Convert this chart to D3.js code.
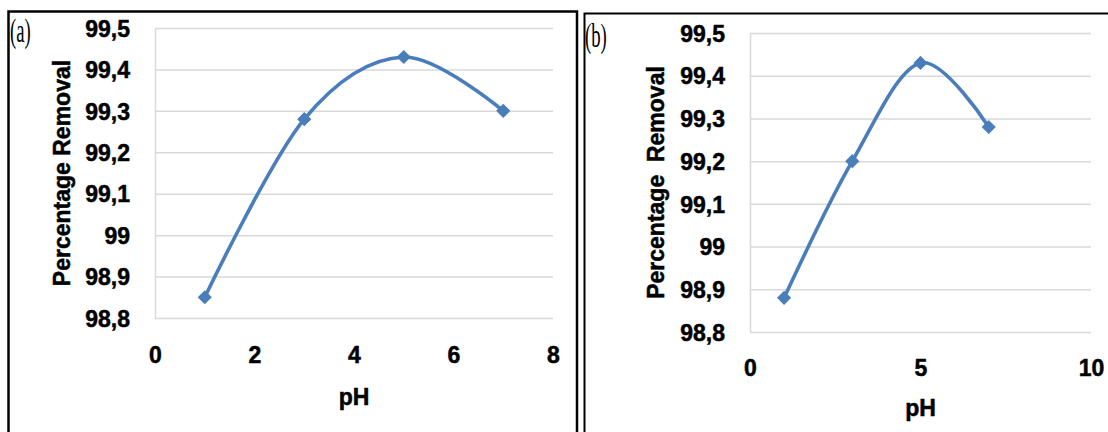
<!DOCTYPE html>
<html lang="en">
<head>
<meta charset="utf-8">
<title>Percentage Removal vs pH</title>
<script src="https://d3js.org/d3.v7.min.js"></script>
<style>
  body { margin: 0; background: #fff; }
  text { font-family: "Liberation Sans", Arial, sans-serif; }
  .axis text { font-size: 23px; font-weight: bold; fill: #000; stroke: #000; stroke-width: 0.5; }
  .axis .tick line { stroke: #d9d9d9; stroke-width: 1.5; }
  .axis path.domain { stroke: #d9d9d9; stroke-width: 1.5; }
  .title { font-size: 23px; font-weight: bold; fill: #000; stroke: #000; stroke-width: 0.5; }
  .tag { font-family: "Liberation Serif", "Times New Roman", serif; font-size: 34px; fill: #000; }
</style>
</head>
<body>
<svg id="chart" width="1108" height="432"></svg>
<script>
// data
var phA = [1, 3, 5, 7];
var removalA = [98.85, 99.28, 99.43, 99.30];
var phB = [1, 3, 5, 7];
var removalB = [98.88, 99.20, 99.43, 99.28];
var yTicks = [98.8, 98.9, 99.0, 99.1, 99.2, 99.3, 99.4, 99.5];
var xTicksA = [0, 2, 4, 6, 8];
var xTicksB = [0, 5, 10];

var svg = d3.select("#chart");
var blue = "#4a7ebb";

var fmt = function(d) { return d3.format(".1~f")(d).replace(".", ","); };

// panel frames
svg.append("path")
    .attr("d", "M8.5,432 V11.5 H577 V432")
    .attr("fill", "none").attr("stroke", "#000").attr("stroke-width", 2.5);
svg.append("path")
    .attr("d", "M584.5,432 V13.5 H1108")
    .attr("fill", "none").attr("stroke", "#000").attr("stroke-width", 2);

function drawPanel(p) {
  var x = d3.scaleLinear().domain([0, p.xMax]).range([p.left, p.right]);
  var y = d3.scaleLinear().domain([98.8, 99.5]).range([p.bottom, p.top]);

  // y axis + gridlines
  var gy = svg.append("g")
      .attr("class", "axis")
      .attr("transform", "translate(" + p.left + ",0)")
      .call(d3.axisLeft(y).tickValues(yTicks).tickFormat(fmt)
        .tickSizeInner(-(p.right - p.left)).tickSizeOuter(0).tickPadding(25));
  gy.selectAll(".tick text").attr("dy", "0.36em");

  // x axis labels only
  var gx = svg.append("g")
      .attr("class", "axis")
      .attr("transform", "translate(0," + p.bottom + ")")
      .call(d3.axisBottom(x).tickValues(p.xTicks).tickFormat(d3.format("d"))
        .tickSize(0).tickPadding(p.xPad));
  gx.select(".domain").remove();

  // curve
  var pts = p.ph.map(function(d, i) { return [d, p.removal[i]]; });
  var line = d3.line()
      .x(function(d) { return x(d[0]); })
      .y(function(d) { return y(d[1]); })
      .curve(d3.curveCardinal.tension(0));
  svg.append("path")
      .datum(pts)
      .attr("d", line)
      .attr("fill", "none")
      .attr("stroke", blue)
      .attr("stroke-width", 3.6);

  svg.selectAll(null)
      .data(pts)
      .enter().append("path")
      .attr("d", d3.symbol(d3.symbolSquare, 100))
      .attr("transform", function(d) { return "translate(" + x(d[0]) + "," + y(d[1]) + ") rotate(45)"; })
      .attr("fill", blue);

  // titles
  svg.append("text")
      .attr("class", "title")
      .attr("x", (p.left + p.right) / 2)
      .attr("y", p.phY)
      .attr("text-anchor", "middle")
      .attr("dominant-baseline", "central")
      .text("pH");
  svg.append("text")
      .attr("class", "title")
      .attr("transform", "translate(" + p.yTitleX + "," + (p.top + p.bottom) / 2 + ") rotate(-90)")
      .attr("text-anchor", "middle")
      .attr("dominant-baseline", "central")
      .style("white-space", "pre")
      .text(p.yTitle);

  svg.append("text")
      .attr("class", "tag")
      .attr("transform", "translate(" + p.tagX + "," + p.tagY + ") scale(0.55,1)")
      .text(p.tag);
}

drawPanel({
  ph: phA, removal: removalA, xTicks: xTicksA, xMax: 8,
  left: 155, right: 553, top: 28, bottom: 318, xPad: 29,
  phY: 397, yTitleX: 62, yTitle: "Percentage Removal",
  tag: "(a)", tagX: 10, tagY: 42
});
drawPanel({
  ph: phB, removal: removalB, xTicks: xTicksB, xMax: 10,
  left: 750, right: 1091, top: 33, bottom: 332, xPad: 28,
  phY: 408, yTitleX: 656, yTitle: "Percentage  Removal",
  tag: "(b)", tagX: 585, tagY: 47
});
</script>
</body>
</html>
